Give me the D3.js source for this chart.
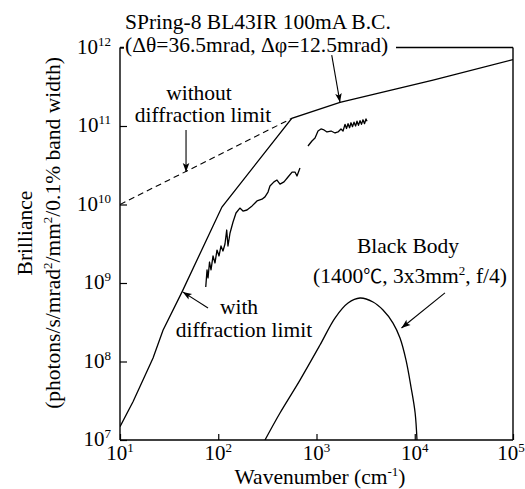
<!DOCTYPE html>
<html><head><meta charset="utf-8">
<script src="https://cdn.jsdelivr.net/npm/d3@7"></script>
<style>
html,body{margin:0;padding:0;background:#fff;}
svg text{font-family:"Liberation Serif","Times New Roman",serif;fill:#000;}
</style></head>
<body><svg id="c" width="525" height="489"></svg>
<script>
// ---- data (wavenumber cm^-1, brilliance) ----
const withDiffraction = [
  [10, 1.48e7], [13.6, 3.1e7], [21.7, 1.11e8], [27.4, 2.5e8], [42.8, 7.7e8],
  [109, 9.3e9], [560, 1.25e11], [1734, 2.0e11], [15350, 3.85e11], [1e5, 7.0e11]
];
const withoutDiffraction = [
  [10, 1.0e10], [560, 1.25e11]
];
const measuredLow = [
  [74.6, 8.9e8], [76.9, 1.47e9], [78.7, 1.16e9], [81.5, 1.85e9], [84.4, 1.47e9],
  [88.5, 2.21e9], [92.7, 1.80e9], [97.1, 2.63e9], [101.8, 2.21e9], [106.6, 2.96e9],
  [111.7, 2.56e9], [117.1, 3.14e9], [121.9, 4.73e9], [125.6, 2.96e9], [131.8, 4.34e9],
  [141.4, 5.98e9], [151.6, 7.8e9], [166, 9.0e9], [178.6, 8.26e9], [196, 8.51e9],
  [221, 9.6e9], [248, 1.11e10], [278.6, 1.17e10], [299, 1.25e10], [321, 1.44e10],
  [336, 1.72e10], [369, 1.94e10], [396, 2.05e10], [425, 1.82e10], [467, 1.94e10],
  [513, 2.24e10], [564, 2.59e10], [604, 2.59e10], [633, 2.31e10], [679, 2.92e10]
];
const measuredHigh = [
  [819, 5.56e10], [899, 6.44e10], [966, 7.03e10], [1036, 8.63e10], [1111, 9.16e10],
  [1192, 8.9e10], [1279, 8.39e10], [1406, 8.63e10], [1545, 8.15e10], [1656, 8.39e10],
  [1775, 9.16e10], [1862, 8.63e10], [1950, 1.05e11], [2020, 9.3e10], [2094, 1.07e11],
  [2170, 9.5e10], [2245, 1.10e11], [2325, 9.8e10], [2410, 1.12e11], [2500, 1.0e11],
  [2583, 1.15e11], [2675, 1.02e11], [2774, 1.17e11], [2870, 1.05e11], [2974, 1.20e11],
  [3080, 1.07e11], [3190, 1.23e11], [3267, 1.15e11]
];
const blackBody = [
  [299, 1.0e7], [425, 2.21e7], [679, 5.8e7], [1085, 1.62e8], [1542, 3.58e8],
  [2094, 5.56e8], [2774, 6.44e8], [3760, 5.73e8], [4753, 4.53e8],
  [6008, 3.09e8], [7080, 1.99e8], [8150, 1.04e8], [9160, 4.73e7], [10090, 2.21e7],
  [10540, 1.0e7]
];
const xTickValues = [1e1, 1e2, 1e3, 1e4, 1e5];
const xTickExponents = ["1", "2", "3", "4", "5"];
const yTickValues = [1e7, 1e8, 1e9, 1e10, 1e11, 1e12];
const yTickExponents = ["7", "8", "9", "10", "11", "12"];
// annotation arrows: [tail, tip] in data units
const arrows = [
  [[1429, 8.0e11], [1734, 2.0e11]],
  [[47, 8.9e10], [47, 2.6e10]],
  [[78.7, 4.8e8], [43.5, 7.7e8]],
  [[20300, 7.5e8], [7330, 2.67e8]]
];

// ---- layout ----
const L = 120, R = 513, T = 47.5, B = 440;
const svg = d3.select("#c");
const x = d3.scaleLog().domain([1e1, 1e5]).range([L, R]);
const y = d3.scaleLog().domain([1e7, 1e12]).range([B, T]);

svg.append("defs").append("clipPath").attr("id", "clip")
  .append("rect").attr("x", L).attr("y", T).attr("width", R - L).attr("height", B - T);
svg.select("defs").append("marker").attr("id", "ah")
  .attr("viewBox", "-10 -5 12 10").attr("refX", 0).attr("refY", 0)
  .attr("markerWidth", 12).attr("markerHeight", 10).attr("markerUnits", "userSpaceOnUse")
  .attr("orient", "auto")
  .append("path").attr("d", "M0,0 L-9,-3.3 L-7,0 L-9,3.3 Z").attr("fill", "#000");

// frame (top and right)
svg.append("line").attr("x1", L).attr("x2", R).attr("y1", T).attr("y2", T)
  .attr("stroke", "#000").attr("stroke-width", 1.4);
svg.append("line").attr("x1", R).attr("x2", R).attr("y1", T).attr("y2", B)
  .attr("stroke", "#000").attr("stroke-width", 1.4);

// axes
const xAxis = d3.axisBottom(x).tickValues(xTickValues).tickSize(-6).tickFormat(() => "");
const yAxis = d3.axisLeft(y).tickValues(yTickValues).tickSize(-7).tickFormat(() => "");
const gx = svg.append("g").attr("transform", `translate(0,${B})`).call(xAxis);
const gy = svg.append("g").attr("transform", `translate(${L},0)`).call(yAxis);
[gx, gy].forEach(g => {
  g.select(".domain").attr("stroke", "#000").attr("stroke-width", 1.4)
    .attr("d", g === gx ? `M${L},0H${R}` : `M0,${B}V${T}`);
  g.selectAll(".tick line").attr("stroke", "#000").attr("stroke-width", 1.2);
});

// tick labels
const xl = svg.append("g").selectAll("text").data(xTickValues).join("text")
  .attr("x", (d, i) => x(d) - (i === xTickValues.length - 1 ? 2 : 0)).attr("y", 460)
  .attr("text-anchor", "middle").attr("font-size", 21);
xl.append("tspan").text("10");
xl.append("tspan").attr("dy", -8).attr("font-size", 13).text((d, i) => xTickExponents[i]);

const yl = svg.append("g").selectAll("text").data(yTickValues).join("text")
  .attr("x", 111).attr("y", d => y(d) + 6).attr("text-anchor", "end").attr("font-size", 21);
yl.append("tspan").text("10");
yl.append("tspan").attr("dy", -8).attr("font-size", 13).text((d, i) => yTickExponents[i]);

// curves
const line = d3.line().x(d => x(d[0])).y(d => y(d[1]));
const plot = svg.append("g").attr("clip-path", "url(#clip)");
plot.append("path").datum(withDiffraction).attr("d", line)
  .attr("fill", "none").attr("stroke", "#000").attr("stroke-width", 1.3);
plot.append("path").datum(withoutDiffraction).attr("d", line)
  .attr("fill", "none").attr("stroke", "#000").attr("stroke-width", 1.1)
  .attr("stroke-dasharray", "6,4");
[measuredLow, measuredHigh].forEach(s =>
  plot.append("path").datum(s).attr("d", line)
    .attr("fill", "none").attr("stroke", "#000").attr("stroke-width", 1.3)
    .attr("stroke-linejoin", "round"));
plot.append("path").datum(blackBody)
  .attr("d", d3.line().x(d => x(d[0])).y(d => y(d[1])).curve(d3.curveCatmullRom.alpha(0.5)))
  .attr("fill", "none").attr("stroke", "#000").attr("stroke-width", 1.3);

// title (covers frame line)
svg.append("rect").attr("x", 124).attr("y", 36).attr("width", 272).attr("height", 24).attr("fill", "#fff");
svg.append("text").attr("x", 125).attr("y", 29).attr("font-size", 21.5).text("SPring-8 BL43IR 100mA B.C.");
svg.append("text").attr("x", 125).attr("y", 52).attr("font-size", 21.5).text("(Δθ=36.5mrad, Δφ=12.5mrad)");

// annotation texts
const ann = svg.append("g").attr("font-size", 21.5).attr("text-anchor", "middle");
ann.append("text").attr("x", 199).attr("y", 100).text("without");
ann.append("text").attr("x", 203).attr("y", 122).text("diffraction limit");
ann.append("text").attr("x", 239).attr("y", 314).text("with");
ann.append("text").attr("x", 244).attr("y", 337).text("diffraction limit");
ann.append("text").attr("x", 408).attr("y", 253).text("Black Body");
const bb = ann.append("text").attr("x", 410).attr("y", 283);
bb.append("tspan").text("(1400");
bb.append("tspan").attr("font-family", "'Noto Sans CJK JP'").attr("font-size", 19).text("℃");
bb.append("tspan").text(", 3x3mm");
bb.append("tspan").attr("dy", -8).attr("font-size", 13).text("2");
bb.append("tspan").attr("dy", 8).text(", f/4)");

// arrows
svg.append("g").selectAll("line").data(arrows).join("line")
  .attr("x1", d => x(d[0][0])).attr("y1", d => y(d[0][1]))
  .attr("x2", d => x(d[1][0])).attr("y2", d => y(d[1][1]))
  .attr("stroke", "#000").attr("stroke-width", 1.1).attr("marker-end", "url(#ah)");

// axis titles
svg.append("text").attr("x", 320).attr("y", 484).attr("text-anchor", "middle").attr("font-size", 21.5)
  .call(t => {
    t.append("tspan").text("Wavenumber (cm");
    t.append("tspan").attr("dy", -8).attr("font-size", 13).text("-1");
    t.append("tspan").attr("dy", 8).text(")");
  });
const yt = svg.append("g").attr("transform", "translate(0,233) rotate(-90)");
yt.append("text").attr("x", 0).attr("y", 32).attr("text-anchor", "middle").attr("font-size", 21.5).text("Brilliance");
yt.append("text").attr("x", 0).attr("y", 60).attr("text-anchor", "middle").attr("font-size", 21.5)
  .call(t => {
    t.append("tspan").text("(photons/s/mrad");
    t.append("tspan").attr("dy", -8).attr("font-size", 13).text("2");
    t.append("tspan").attr("dy", 8).text("/mm");
    t.append("tspan").attr("dy", -8).attr("font-size", 13).text("2");
    t.append("tspan").attr("dy", 8).text("/0.1% band width)");
  });
</script></body></html>
